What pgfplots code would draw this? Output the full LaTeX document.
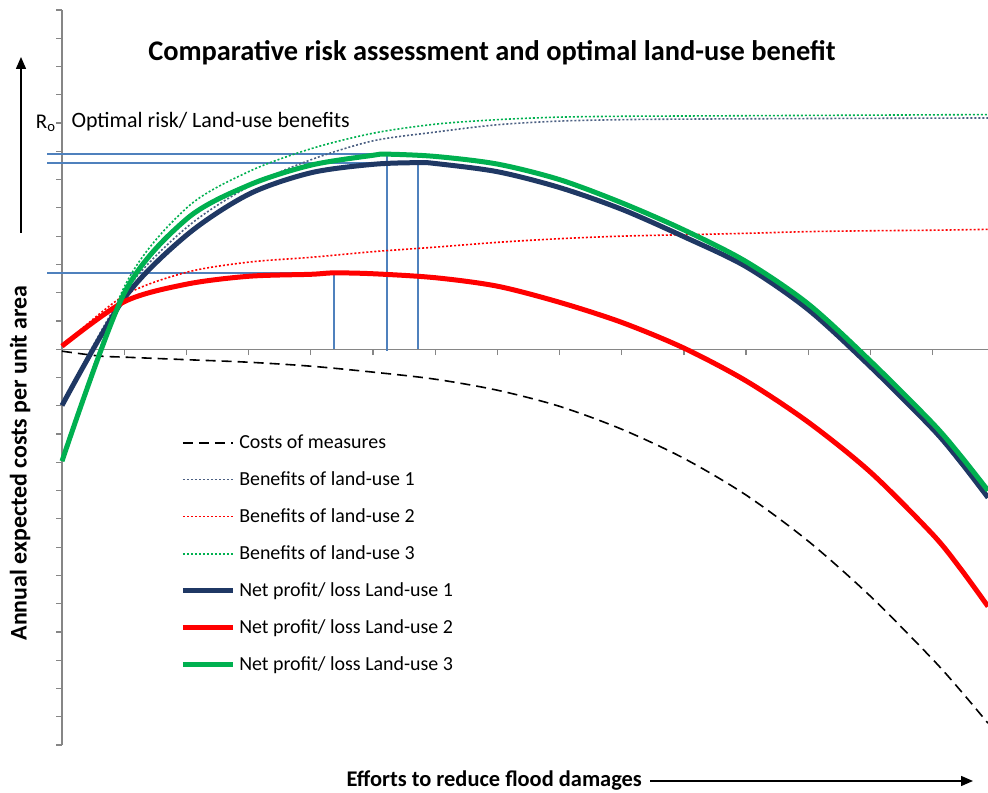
\documentclass[border=0pt]{standalone}
\usepackage{pgfplots}
\pgfplotsset{compat=1.18}
\usepackage{fontspec}
\setmainfont{Carlito}
\usetikzlibrary{arrows.meta}
\definecolor{navy}{HTML}{1F3864}
\definecolor{lured}{HTML}{FF0000}
\definecolor{lugreen}{HTML}{00B050}
\definecolor{refblue}{HTML}{4F81BD}
\definecolor{axgray}{HTML}{868686}
\begin{document}
\begin{tikzpicture}[x=1bp,y=1bp]
\path[use as bounding box] (0,0) rectangle (988,793);
\begin{axis}[
  at={(62bp,48bp)}, anchor=south west,
  scale only axis, width=926bp, height=735bp,
  xmin=0, xmax=14.89, ymin=-14, ymax=12,
  axis x line=middle, axis y line=left,
  axis line style={draw=axgray, line width=1.4bp, -},
  xtick={1,...,14}, ytick={-14,...,12},
  xticklabels={}, yticklabels={},
  tick align=center,
  major tick length=6bp,
  x tick style={draw=axgray, line width=1.2bp, yshift=-3bp},
  y tick style={draw=axgray, line width=1.2bp, xshift=-3bp},
  extra y ticks={8}, extra y tick labels={R\textsubscript{o}},
  extra y tick style={tick label style={font=\fontsize{21}{24}\selectfont}},
  clip=false,
  legend style={at={(0.1275,0.4245)}, anchor=north west, draw=none, fill=none,
    font=\fontsize{20}{24}\selectfont, row sep=17.7bp, inner sep=0pt,
    cells={anchor=west}},
  legend image code/.code={\draw[#1] (0bp,0bp) -- (50bp,0bp); \path (52bp,0bp);},
  every axis plot/.append style={smooth},
]
% reference lines
\addplot[refblue, line width=1.8bp, sharp plot, forget plot] coordinates {(-0.24,6.91) (5.225,6.91) (5.225,-0.05)};
\addplot[refblue, line width=1.8bp, sharp plot, forget plot] coordinates {(-0.24,6.60) (5.72,6.60) (5.72,0)};
\addplot[refblue, line width=1.8bp, sharp plot, forget plot] coordinates {(-0.24,2.70) (4.37,2.70) (4.37,0)};
% costs
\addplot[black, line width=1.6bp, dash pattern=on 10bp off 6bp] coordinates {
(0,-0.07) (0.6,-0.24) (1,-0.28) (2,-0.37) (3,-0.46) (4,-0.60) (5,-0.81) (6,-1.06)
(7,-1.45) (8,-2.02) (9,-2.83) (10,-3.86) (11,-5.16) (12,-6.79) (13,-8.74) (14,-10.97)
(14.45,-12.08) (14.89,-13.23)};
\addlegendentry{Costs of measures}
% benefits
\addplot[navy!80!white, line width=1.6bp, dash pattern=on 2bp off 2bp] coordinates {
(0,-1.95) (1,2.0) (2,4.3) (3,5.75) (4,6.7) (5,7.37) (6,7.68) (7,7.94) (8,8.07)
(9,8.12) (10,8.14) (12,8.16) (14.89,8.18)};
\addlegendentry{Benefits of land-use 1}
\addplot[lured, line width=1.6bp, dash pattern=on 2bp off 2bp] coordinates {
(0,0.11) (1,1.9) (2,2.72) (3,3.08) (4,3.25) (5,3.45) (6,3.61) (7,3.78) (8,3.91)
(9,4.0) (10,4.05) (11,4.10) (12,4.16) (13,4.19) (14,4.21) (14.89,4.24)};
\addlegendentry{Benefits of land-use 2}
\addplot[lugreen, line width=1.6bp, dash pattern=on 2bp off 2bp] coordinates {
(0,-3.9) (1,2.2) (2,4.99) (3,6.28) (4,7.09) (5,7.64) (6,7.96) (7,8.12) (8,8.21)
(9,8.24) (10,8.25) (12,8.27) (14.89,8.30)};
\addlegendentry{Benefits of land-use 3}
% net
\addplot[navy, line width=5bp] coordinates {
(0,-1.99) (1,1.80) (2,4.03) (3,5.48) (4,6.24) (5,6.54) (5.72,6.60) (6,6.57) (7,6.28)
(8,5.72) (9,4.95) (10,3.98) (11,2.92) (12,1.40) (13,-0.62) (14,-2.82) (14.45,-3.99)
(14.89,-5.25)};
\addlegendentry{Net profit/ loss Land-use 1}
\addplot[lured, line width=5bp] coordinates {
(0,0.11) (1,1.68) (2,2.30) (3,2.58) (4,2.65) (4.37,2.70) (5,2.67) (6,2.53) (7,2.23)
(8,1.66) (9,0.95) (10,0.04) (11,-1.12) (12,-2.58) (13,-4.35) (14,-6.55) (14.45,-7.77)
(14.89,-9.10)};
\addlegendentry{Net profit/ loss Land-use 2}
\addplot[lugreen, line width=5bp] coordinates {
(0,-3.96) (1,1.98) (2,4.60) (3,5.80) (4,6.51) (5,6.86) (5.225,6.90) (6,6.82) (7,6.55)
(8,6.0) (9,5.18) (10,4.22) (11,3.10) (12,1.60) (13,-0.42) (14,-2.62) (14.45,-3.77)
(14.89,-5.0)};
\addlegendentry{Net profit/ loss Land-use 3}
\end{axis}
\node[font=\bfseries\fontsize{28.5}{32}\selectfont] at (492,740) {Comparative risk assessment and optimal land-use benefit};
\node[anchor=west, font=\fontsize{22}{26}\selectfont] at (68,671) {Optimal risk/ Land-use benefits};
\draw[line width=1.5bp, -{Triangle[length=12bp,width=10bp]}] (21,560) -- (21,736);
\node[rotate=90, font=\bfseries\fontsize{24}{28}\selectfont] at (20,330) {Annual expected costs per unit area};
\node[anchor=west, font=\bfseries\fontsize{22.5}{26}\selectfont] at (343,12) {Efforts to reduce flood damages};
\draw[line width=1.5bp, -{Triangle[length=12bp,width=10bp]}] (650,12) -- (973,12);
\end{tikzpicture}
\end{document}
